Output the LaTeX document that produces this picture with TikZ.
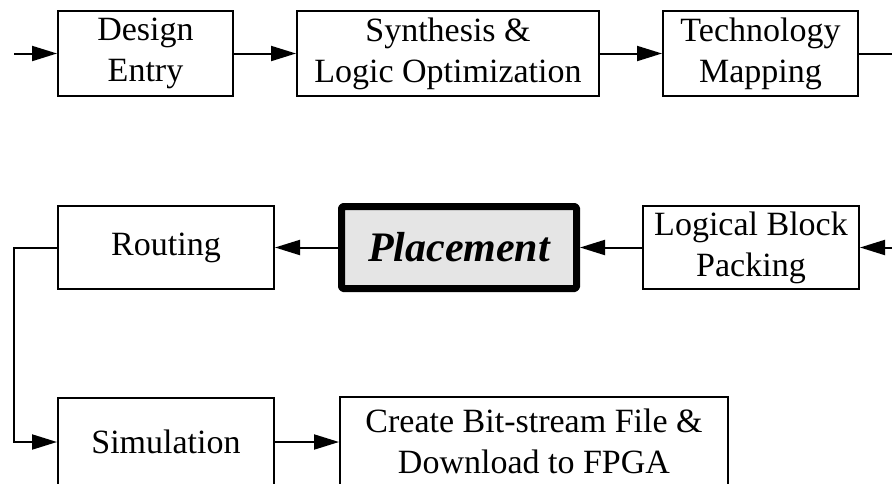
\documentclass[tikz,border=0pt]{standalone}
\usepackage{fontspec}
\setmainfont{Liberation Serif}
\usetikzlibrary{arrows.meta}
\begin{document}
\begin{tikzpicture}[x=1pt,y=-1pt,
  stage/.style={draw,line width=2pt,rectangle,inner sep=0pt,align=center,
    font=\fontsize{34}{41}\selectfont},
  keystage/.style={draw,line width=7pt,rectangle,rounded corners=1.5pt,
    line join=round,inner sep=0pt,fill=black!10,
    font=\fontsize{42}{48}\selectfont\bfseries\itshape},
  flow/.style={line width=2pt,-{Triangle[length=25pt,width=15pt]}},
  wire/.style={line width=2pt}]
\useasboundingbox (0,0) rectangle (892,483);
\clip (0,0) rectangle (892,483);

% first row
\node[stage,minimum width=175pt,minimum height=85pt] (entry) at (145.5,53.5) {Design\\Entry};
\node[stage,minimum width=302pt,minimum height=85pt] (synth) at (448,53.5) {Synthesis \&\\Logic Optimization};
\node[stage,minimum width=195pt,minimum height=85pt] (tech) at (760.5,53.5) {Technology\\Mapping};

% second row
\node[stage,minimum width=216pt,minimum height=83pt] (route) at (166,247.5) {Routing};
\node[keystage,minimum width=235pt,minimum height=82pt] (place) at (459,247.5) {Placement};
\node[stage,minimum width=216pt,minimum height=83pt] (pack) at (751,247.5) {Logical Block\\Packing};

% third row, running off the lower edge
\node[stage,minimum width=216pt,minimum height=88pt] (sim) at (166,442) {Simulation};
\node[stage,minimum width=388pt,minimum height=88pt] (create) at (534,441) {Create Bit-stream File \&\\Download to FPGA};

% free ends at the page edges
\coordinate (start) at (14,53.5);
\coordinate (tout) at (900,53.5);
\coordinate (pin) at (900,247.5);
\coordinate (bend) at (14,247.5);

\draw[flow] (start) -- (entry.west);
\draw[flow] (entry.east) -- (synth.west);
\draw[flow] (synth.east) -- (tech.west);
\draw[wire] (tech.east) -- (tout);
\draw[flow] (pin) -- (pack.east);
\draw[flow] (pack.west) -- (place.east);
\draw[flow] (place.west) -- (route.east);
\draw[flow] (route.west) -- (bend) |- (sim.west);
\draw[flow] (sim.east) -- (sim.east -| create.west);
\end{tikzpicture}
\end{document}
